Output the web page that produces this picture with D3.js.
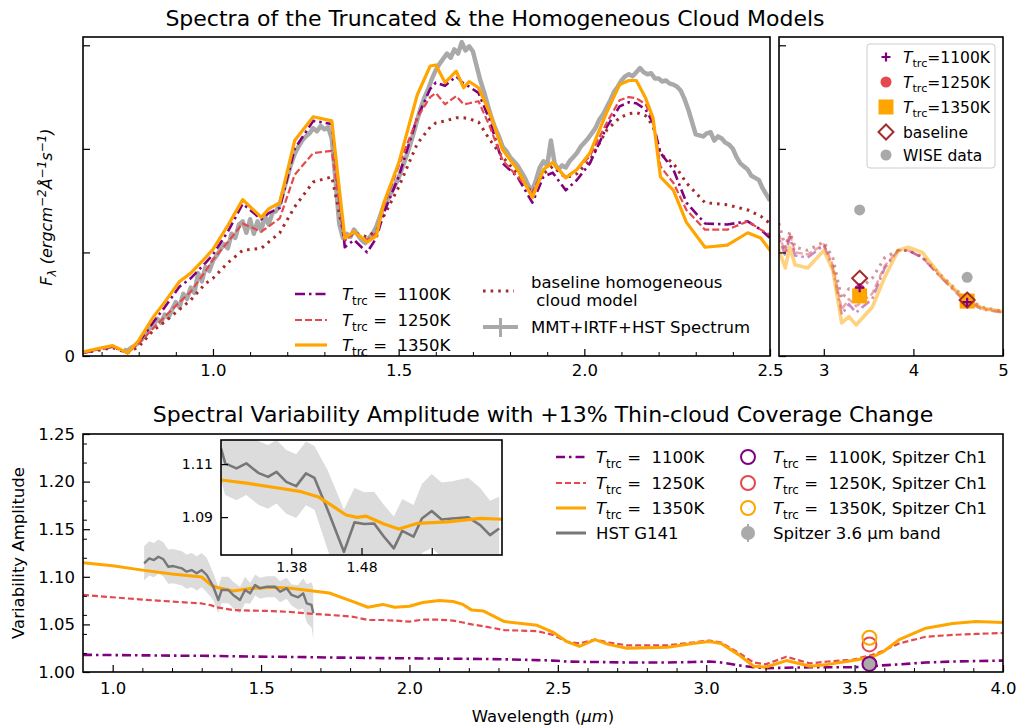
<!DOCTYPE html>
<html><head><meta charset="utf-8">
<script src="https://cdn.jsdelivr.net/npm/d3@7"></script>
<style>body{margin:0;background:#fff} text{font-family:"DejaVu Sans",sans-serif;white-space:pre;}</style>
</head><body><script>
// ---------------- DATA ----------------
// Top panels: model spectra (arbitrary flux units)
const modelWave = [0.65,0.70,0.73,0.77,0.80,0.84,0.87,0.91,0.94,0.98,
  1.00,1.04,1.08,1.13,1.15,1.18,1.22,1.27,1.32,1.355,
  1.38,1.415,1.44,1.46,1.50,1.55,1.585,1.60,1.625,1.655,
  1.675,1.69,1.715,1.745,1.78,1.82,1.86,1.89,1.915,1.95,
  1.98,2.015,2.06,2.095,2.12,2.14,2.165,2.185,2.205,2.24,
  2.275,2.325,2.385,2.44,2.475,2.50,2.57,2.62,2.68,2.82,
  3.00,3.10,3.20,3.28,3.36,3.54,3.68,3.83,3.94,4.10,
  4.32,4.55,4.77,5.00];
const flux1100 = [0.03,0.07,0.09,0.03,0.13,0.33,0.47,0.67,0.75,0.90,
  0.98,1.20,1.47,1.32,1.38,1.43,2.00,2.27,2.24,1.05,
  1.12,1.00,1.14,1.38,1.73,2.30,2.58,2.64,2.61,2.70,
  2.63,2.60,2.54,2.28,1.86,1.73,1.48,1.73,1.77,1.60,
  1.70,1.86,2.21,2.41,2.45,2.44,2.38,2.25,1.96,1.80,
  1.48,1.28,1.27,1.30,1.22,1.14,0.97,1.15,0.97,0.95,
  1.07,0.85,0.40,0.50,0.42,0.55,0.85,1.02,1.02,0.95,
  0.75,0.55,0.45,0.42];
const flux1250 = [0.03,0.07,0.09,0.03,0.12,0.27,0.38,0.52,0.62,0.82,
  0.93,1.10,1.28,1.20,1.25,1.33,1.75,1.96,1.98,1.12,
  1.19,1.12,1.19,1.45,1.83,2.30,2.50,2.54,2.43,2.51,
  2.43,2.44,2.46,2.22,1.89,1.73,1.58,1.80,1.86,1.73,
  1.80,1.93,2.25,2.47,2.50,2.49,2.43,2.28,1.83,1.67,
  1.41,1.22,1.22,1.30,1.22,1.17,1.00,1.18,1.00,0.98,
  1.08,0.88,0.45,0.55,0.48,0.60,0.87,1.02,1.02,0.95,
  0.75,0.56,0.46,0.43];
const flux1350 = [0.04,0.08,0.10,0.03,0.15,0.38,0.52,0.72,0.80,0.95,
  1.03,1.26,1.51,1.34,1.42,1.48,2.08,2.31,2.27,1.14,
  1.20,1.10,1.16,1.48,1.86,2.52,2.80,2.81,2.64,2.75,
  2.59,2.65,2.59,2.35,1.99,1.80,1.53,1.80,1.87,1.72,
  1.80,1.96,2.35,2.62,2.66,2.66,2.49,2.30,1.73,1.60,
  1.29,1.05,1.07,1.19,1.14,1.02,0.85,1.05,0.88,0.85,
  1.02,0.83,0.32,0.38,0.30,0.47,0.76,1.02,1.05,1.00,
  0.76,0.57,0.46,0.43];
const fluxBase = [0.03,0.06,0.08,0.03,0.09,0.25,0.33,0.45,0.54,0.70,
  0.75,0.90,1.02,1.04,1.10,1.19,1.44,1.68,1.73,1.12,
  1.19,1.15,1.21,1.35,1.63,2.05,2.21,2.25,2.27,2.30,
  2.30,2.29,2.26,2.09,1.92,1.76,1.57,1.76,1.83,1.72,
  1.76,1.89,2.18,2.30,2.34,2.35,2.32,2.22,1.95,1.86,
  1.67,1.48,1.46,1.41,1.35,1.28,1.05,1.20,1.05,1.02,
  1.10,0.95,0.55,0.65,0.62,0.75,0.95,1.02,1.02,0.96,
  0.77,0.58,0.47,0.43];

// Observed MMT+IRTF+HST spectrum
const obsWave = [0.76,0.77,0.78,0.79,0.80,0.81,0.82,0.83,0.84,0.85,
  0.86,0.87,0.88,0.89,0.90,0.91,0.92,0.93,0.94,0.95,
  0.96,0.97,0.98,0.99,1.00,1.01,1.02,1.03,1.04,1.05,
  1.06,1.07,1.08,1.09,1.10,1.11,1.12,1.13,1.14,1.15,
  1.16,1.17,1.18,1.19,1.20,1.21,1.22,1.23,1.24,1.25,
  1.26,1.27,1.28,1.29,1.30,1.31,1.32,1.33,1.34,1.35,
  1.36,1.37,1.38,1.39,1.40,1.41,1.42,1.43,1.44,1.45,
  1.46,1.47,1.48,1.49,1.50,1.51,1.52,1.53,1.54,1.55,
  1.56,1.57,1.58,1.59,1.60,1.61,1.62,1.63,1.64,1.65,
  1.66,1.67,1.68,1.69,1.70,1.71,1.72,1.73,1.74,1.75,
  1.76,1.77,1.78,1.79,1.80,1.81,1.82,1.83,1.84,1.85,
  1.86,1.87,1.88,1.89,1.90,1.91,1.92,1.93,1.94,1.95,
  1.96,1.97,1.98,1.99,2.00,2.01,2.02,2.03,2.04,2.05,
  2.06,2.07,2.08,2.09,2.10,2.11,2.12,2.13,2.14,2.15,
  2.16,2.17,2.18,2.19,2.20,2.21,2.22,2.23,2.24,2.25,
  2.26,2.27,2.28,2.29,2.30,2.31,2.32,2.33,2.34,2.35,
  2.36,2.37,2.38,2.39,2.40,2.41,2.42,2.43,2.44,2.45,
  2.46,2.47,2.48,2.49,2.50];
const obsFlux = [0.06,0.05,0.08,0.10,0.13,0.17,0.22,0.27,0.30,0.36,
  0.32,0.40,0.37,0.45,0.52,0.47,0.60,0.55,0.66,0.61,
  0.80,0.72,0.86,0.82,0.92,0.97,1.03,1.08,1.04,1.18,
  1.14,1.27,1.30,1.19,1.32,1.18,1.30,1.21,1.35,1.27,
  1.38,1.40,1.47,1.60,1.72,1.85,1.95,2.02,2.08,2.12,
  2.15,2.20,2.17,2.22,2.19,2.21,2.10,1.70,1.28,1.14,
  1.18,1.15,1.22,1.17,1.12,1.09,1.14,1.18,1.25,1.35,
  1.45,1.51,1.58,1.65,1.72,1.82,1.92,2.03,2.15,2.28,
  2.40,2.50,2.58,2.68,2.76,2.82,2.87,2.92,2.88,2.96,
  2.92,3.03,2.95,2.99,2.94,2.80,2.66,2.55,2.42,2.30,
  2.20,2.12,2.02,1.98,1.92,1.88,1.84,1.78,1.72,1.64,
  1.60,1.70,1.82,1.88,1.84,2.08,1.86,1.80,1.84,1.82,
  1.88,1.92,1.96,2.02,2.06,2.10,2.15,2.20,2.28,2.33,
  2.40,2.47,2.55,2.60,2.66,2.70,2.72,2.70,2.74,2.78,
  2.74,2.72,2.73,2.68,2.68,2.65,2.66,2.63,2.62,2.60,
  2.56,2.48,2.38,2.26,2.14,2.13,2.12,2.15,2.16,2.08,
  2.12,2.10,2.06,2.04,2.00,1.92,1.86,1.83,1.80,1.74,
  1.72,1.70,1.62,1.56,1.50];

// Photometry (top-right panel)
const photWave = [3.4, 4.6];
const phot1100 = [0.66, 0.52];
const phot1250 = [0.64, 0.54];
const phot1350 = [0.58, 0.53];
const photBase = [0.75, 0.54];
const wiseFlux = [1.41, 0.76];

// Bottom panel: variability amplitude
const ampWave = [0.90,1.00,1.10,1.20,1.30,1.333,1.35,1.405,1.47,1.54,
  1.60,1.675,1.73,1.81,1.86,1.91,1.95,2.00,2.045,2.10,
  2.147,2.18,2.21,2.25,2.32,2.43,2.483,2.53,2.573,2.625,
  2.67,2.733,2.87,2.955,3.01,3.05,3.11,3.16,3.20,3.27,
  3.35,3.41,3.495,3.56,3.595,3.65,3.74,3.83,3.91,4.00];
const amp1100 = [1.0180,1.0178,1.0175,1.0172,1.0170,1.0169,1.0168,1.0165,1.0162,1.0160,
  1.0158,1.0155,1.0152,1.0150,1.0148,1.0146,1.0145,1.0144,1.0142,1.0141,
  1.0140,1.0139,1.0138,1.0137,1.0133,1.0125,1.0120,1.0110,1.0107,1.0105,
  1.0103,1.0100,1.0100,1.0105,1.0110,1.0100,1.0070,1.0050,1.0040,1.0045,
  1.0050,1.0050,1.0050,1.0060,1.0070,1.0080,1.0100,1.0110,1.0115,1.0120];
const amp1250 = [1.0810,1.0785,1.0760,1.0740,1.0720,1.0700,1.0680,1.0650,1.0645,1.0640,
  1.0630,1.0610,1.0600,1.0580,1.0546,1.0546,1.0540,1.0530,1.0550,1.0550,
  1.0540,1.0520,1.0500,1.0480,1.0440,1.0430,1.0390,1.0320,1.0300,1.0340,
  1.0310,1.0280,1.0280,1.0310,1.0330,1.0310,1.0200,1.0100,1.0080,1.0160,
  1.0090,1.0110,1.0130,1.0180,1.0220,1.0300,1.0370,1.0390,1.0400,1.0410];
const amp1350 = [1.1148,1.1117,1.1070,1.1030,1.0998,1.0910,1.0890,1.0850,1.0880,1.0890,
  1.0880,1.0850,1.0830,1.0740,1.0680,1.0710,1.0680,1.0690,1.0730,1.0750,
  1.0740,1.0710,1.0650,1.0640,1.0530,1.0490,1.0420,1.0320,1.0270,1.0340,
  1.0290,1.0250,1.0260,1.0300,1.0320,1.0300,1.0180,1.0060,1.0050,1.0120,
  1.0060,1.0080,1.0120,1.0160,1.0210,1.0340,1.0460,1.0510,1.0530,1.0520];

// HST G141 observed amplitude
const hstWave = [1.106,1.123,1.139,1.154,1.171,1.187,1.204,1.233,1.249,1.266,1.283,1.300,1.317,
  1.339,1.356,1.367,1.390,1.406,1.429,1.446,1.463,1.480,1.496,1.519,1.547,1.564,1.586,
  1.603,1.625,1.642,1.654,1.670,1.676];
const hstAmp = [1.1142,1.1194,1.1176,1.1211,1.1184,1.1106,1.1113,1.1089,1.1054,1.1071,1.1036,1.1071,1.1019,
  1.0896,1.0756,1.0861,1.0861,1.0809,1.0756,1.0861,1.0826,1.0914,1.0879,1.0896,1.0896,1.0843,1.0879,
  1.0809,1.0785,1.0826,1.0721,1.0704,1.0616];
const hstErr = [0.018,0.018,0.018,0.018,0.018,0.018,0.018,0.018,0.018,0.018,0.018,0.018,0.018,
  0.014,0.014,0.014,0.014,0.014,0.014,0.014,0.011,0.011,0.011,0.011,0.011,0.011,0.011,
  0.011,0.013,0.016,0.020,0.024,0.027];

// Inset data
const insetWave = [1.280,1.286,1.302,1.316,1.333,1.347,1.359,1.373,1.387,1.401,1.413,1.432,1.455,1.470,
  1.484,1.498,1.512,1.526,1.538,1.554,1.566,1.580,1.594,1.609,1.632,1.649,1.663,1.676];
const insetAmp = [1.1159,1.1103,1.1084,1.1103,1.1067,1.1052,1.1071,1.1033,1.1017,1.1065,1.1048,1.0926,1.0769,1.0880,
  1.0874,1.0876,1.0826,1.0782,1.0848,1.0826,1.0895,1.0923,1.0891,1.0895,1.0899,1.0870,1.0832,1.0857];
const insetErr = [0.012,0.012,0.012,0.012,0.012,0.012,0.012,0.012,0.012,0.012,0.012,0.015,0.016,0.013,
  0.012,0.012,0.012,0.012,0.012,0.012,0.013,0.014,0.014,0.014,0.015,0.014,0.013,0.012];
const insetModelWave = [1.280,1.319,1.366,1.394,1.418,1.437,1.458,1.474,1.486,1.512,1.533,1.559,1.602,1.649,1.680];
const insetModelAmp = [1.1040,1.1027,1.1008,1.0996,1.0977,1.0945,1.0908,1.0899,1.0904,1.0874,1.0855,1.0876,1.0882,1.0895,1.0892];

// Spitzer channel 1
const spitzerWave = 3.55;
const spitzerModelAmp = [1.0085, 1.029, 1.036]; // 1100K, 1250K, 1350K
const spitzerObsAmp = 1.0085;

// Tick values / labels
const ticksTopLeftX = [1.0, 1.5, 2.0, 2.5];
const ticksTopRightX = [3, 4, 5];
const ticksTopY = [0, 1, 2, 3];
const ticksBottomX = [1.0, 1.5, 2.0, 2.5, 3.0, 3.5, 4.0];
const ticksBottomY = [1.00, 1.05, 1.10, 1.15, 1.20, 1.25];
const ticksInsetX = [1.38, 1.48, 1.58];
const ticksInsetXLabels = ["1.38", "1.48", ""];
const ticksInsetY = [1.09, 1.11];

const tempLabels = ["1100K", "1250K", "1350K"];
const colors = {p1100:"purple", p1250:"#e4494d", p1350:"orange", base:"brown", obs:"#a9a9a9", hst:"#777777", band:"#dcdcdc"};

// ---------------- DRAW ----------------
const W = 1019, H = 727, FF = "DejaVu Sans";
const FS = 16.5;
const svg = d3.select("body").append("svg").attr("width", W).attr("height", H);
const defs = svg.append("defs");

const PA = {x0:83, x1:770, y0:37, y1:356};
const PB = {x0:779, x1:1003, y0:37, y1:356};
const PC = {x0:83, x1:1003, y0:434, y1:672};
const PI = {x0:221, x1:502, y0:440, y1:555};

function clip(id, p){ defs.append("clipPath").attr("id", id).append("rect")
  .attr("x", p.x0).attr("y", p.y0).attr("width", p.x1-p.x0).attr("height", p.y1-p.y0); }
clip("cA", PA); clip("cB", PB); clip("cC", PC); clip("cI", PI);

const xA = d3.scaleLinear([0.65, 2.5], [PA.x0, PA.x1]);
const yA = d3.scaleLinear([0, 3.08], [PA.y1, PA.y0]);
const xB = d3.scaleLinear([2.5, 5.0], [PB.x0, PB.x1]);
const yB = d3.scaleLinear([0, 3.08], [PB.y1, PB.y0]);
const xC = d3.scaleLinear([0.9, 4.0], [PC.x0, PC.x1]);
const yC = d3.scaleLinear([1.0, 1.25], [PC.y1, PC.y0]);
const xI = d3.scaleLinear([1.28, 1.68], [PI.x0, PI.x1]);
const yI = d3.scaleLinear([1.0757, 1.1191], [PI.y1, PI.y0]);

function linePath(g, xs, ys, sx, sy, stroke, width, dash, opacity){
  const line = d3.line().x(d => sx(d[0])).y(d => sy(d[1]));
  g.append("path").datum(xs.map((x,i)=>[x, ys[i]]))
    .attr("d", line).attr("fill","none").attr("stroke", stroke)
    .attr("stroke-width", width).attr("stroke-dasharray", dash || null)
    .attr("stroke-linejoin","round").attr("opacity", opacity == null ? 1 : opacity);
}

function frame(p){ svg.append("rect").attr("x",p.x0).attr("y",p.y0).attr("width",p.x1-p.x0).attr("height",p.y1-p.y0)
  .attr("fill","none").attr("stroke","#000").attr("stroke-width",1.6); }

function xAxis(scale, y, major, fmt, minor, fs, pad){
  const g = svg.append("g").attr("transform", `translate(0,${y})`);
  g.call(d3.axisBottom(scale).tickValues(major).tickFormat(fmt).tickSizeInner(-7).tickSizeOuter(0).tickPadding(pad));
  g.select(".domain").remove();
  g.attr("font-size", fs).attr("font-family", FF);
  g.selectAll("line").attr("stroke","#000").attr("stroke-width",1.2);
  g.selectAll("text").attr("fill","#000");
  if (minor){
    const m = svg.append("g").attr("transform", `translate(0,${y})`);
    m.call(d3.axisBottom(scale).tickValues(minor).tickFormat("").tickSizeInner(-4).tickSizeOuter(0));
    m.select(".domain").remove();
    m.selectAll("line").attr("stroke","#000").attr("stroke-width",1);
  }
}
function yAxis(scale, x, major, fmt, minor, fs, pad){
  const g = svg.append("g").attr("transform", `translate(${x},0)`);
  g.call(d3.axisLeft(scale).tickValues(major).tickFormat(fmt).tickSizeInner(-7).tickSizeOuter(0).tickPadding(pad));
  g.select(".domain").remove();
  g.attr("font-size", fs).attr("font-family", FF);
  g.selectAll("line").attr("stroke","#000").attr("stroke-width",1.2);
  g.selectAll("text").attr("fill","#000");
  if (minor){
    const m = svg.append("g").attr("transform", `translate(${x},0)`);
    m.call(d3.axisLeft(scale).tickValues(minor).tickFormat("").tickSizeInner(-4).tickSizeOuter(0));
    m.select(".domain").remove();
    m.selectAll("line").attr("stroke","#000").attr("stroke-width",1);
  }
}

function ttrc(g, x, yc, rest, fs){
  const t = g.append("text").attr("x", x).attr("y", yc + fs*0.36).attr("font-size", fs).attr("fill","#000");
  t.append("tspan").attr("font-style","italic").text("T");
  t.append("tspan").attr("font-size", fs*0.72).attr("dy", fs*0.28).text("trc");
  t.append("tspan").attr("dy", -fs*0.28).text(rest);
  return t;
}

// ---- Titles
svg.append("text").attr("x", 495).attr("y", 26).attr("text-anchor","middle").attr("font-size", 22)
  .text("Spectra of the Truncated & the Homogeneous Cloud Models");
svg.append("text").attr("x", 543).attr("y", 422).attr("text-anchor","middle").attr("font-size", 22)
  .text("Spectral Variability Amplitude with +13% Thin-cloud Coverage Change");

// ---- Panel A
const gA = svg.append("g").attr("clip-path","url(#cA)");
linePath(gA, obsWave, obsFlux, xA, yA, colors.obs, 4.5);
linePath(gA, modelWave, fluxBase, xA, yA, colors.base, 3, "2.6,5");
linePath(gA, modelWave, flux1100, xA, yA, colors.p1100, 2.6, "10,4,2.5,4");
linePath(gA, modelWave, flux1250, xA, yA, colors.p1250, 2.2, "7,3");
linePath(gA, modelWave, flux1350, xA, yA, colors.p1350, 3.2);
frame(PA);
const minorA = d3.range(7, 26).map(v => v/10).filter(v => ticksTopLeftX.indexOf(v) < 0);
xAxis(xA, PA.y1, ticksTopLeftX, d3.format(".1f"), minorA, FS, 8);
yAxis(yA, PA.x0, ticksTopY, d => d === 0 ? "0" : "", null, FS, 8);

// ---- Panel B
const gB = svg.append("g").attr("clip-path","url(#cB)");
linePath(gB, modelWave, fluxBase, xB, yB, colors.base, 3, "2.6,5", 0.5);
linePath(gB, modelWave, flux1100, xB, yB, colors.p1100, 2.6, "10,4,2.5,4", 0.45);
linePath(gB, modelWave, flux1250, xB, yB, colors.p1250, 2.4, "7,3", 0.5);
linePath(gB, modelWave, flux1350, xB, yB, colors.p1350, 3.6, null, 0.5);
function plusMark(g, x, y, s, c){ g.append("path").attr("d", `M${x-s},${y}H${x+s}M${x},${y-s}V${y+s}`).attr("stroke", c).attr("stroke-width", 2.2); }
function diamondMark(g, x, y, s, c){ g.append("path").attr("d", `M${x},${y-s}L${x+s},${y}L${x},${y+s}L${x-s},${y}Z`).attr("fill","none").attr("stroke", c).attr("stroke-width", 2); }
photWave.forEach((w,i) => {
  gB.append("circle").attr("cx", xB(w)).attr("cy", yB(wiseFlux[i])).attr("r", 5.5).attr("fill", colors.obs);
});
photWave.forEach((w,i) => {
  gB.append("circle").attr("cx", xB(w)).attr("cy", yB(phot1250[i])).attr("r", 5.5).attr("fill", colors.p1250);
  gB.append("rect").attr("x", xB(w)-7.5).attr("y", yB(phot1350[i])-7.5).attr("width", 15).attr("height", 15).attr("fill", colors.p1350);
  diamondMark(gB, xB(w), yB(photBase[i]), 7.5, colors.base);
  plusMark(gB, xB(w), yB(phot1100[i]), 4.5, colors.p1100);
});
frame(PB);
xAxis(xB, PB.y1, ticksTopRightX, d3.format("d"), null, FS, 8);
yAxis(yB, PB.x0, ticksTopY, () => "", null, FS, 8);

// Legend B
const lB = svg.append("g");
lB.append("rect").attr("x", 867).attr("y", 44).attr("width", 128).attr("height", 124).attr("rx", 3)
  .attr("fill","#fff").attr("fill-opacity",0.85).attr("stroke","#cccccc");
const lbRows = [57, 82, 107, 132, 155];
plusMark(lB, 886, lbRows[0], 4.5, colors.p1100);
lB.append("circle").attr("cx", 886).attr("cy", lbRows[1]).attr("r", 5.5).attr("fill", colors.p1250);
lB.append("rect").attr("x", 878.5).attr("y", lbRows[2]-7.5).attr("width", 15).attr("height", 15).attr("fill", colors.p1350);
diamondMark(lB, 886, lbRows[3], 7.5, colors.base);
lB.append("circle").attr("cx", 886).attr("cy", lbRows[4]).attr("r", 5.5).attr("fill", colors.obs);
tempLabels.forEach((t,i) => ttrc(lB, 903, lbRows[i], "=" + t, 15.5));
lB.append("text").attr("x", 903).attr("y", lbRows[3]+5.6).attr("font-size", 15.5).text("baseline");
lB.append("text").attr("x", 903).attr("y", lbRows[4]+5.6).attr("font-size", 15.5).text("WISE data");

// Legend A
const lA = svg.append("g");
const laRows = [294, 320, 345];
function legLine(g, x0, x1, y, c, w, dash){ g.append("line").attr("x1",x0).attr("x2",x1).attr("y1",y).attr("y2",y)
  .attr("stroke",c).attr("stroke-width",w).attr("stroke-dasharray",dash||null); }
legLine(lA, 295, 327, laRows[0], colors.p1100, 2.6, "10,4,2.5,4");
legLine(lA, 295, 327, laRows[1], colors.p1250, 2.2, "7,3");
legLine(lA, 295, 327, laRows[2], colors.p1350, 3.2);
tempLabels.forEach((t,i) => ttrc(lA, 342, laRows[i], " =  " + t, FS));
legLine(lA, 483, 514, 291, colors.base, 3, "2.6,5");
lA.append("text").attr("x", 531).attr("y", 288).attr("font-size", FS).text("baseline homogeneous");
lA.append("text").attr("x", 531).attr("y", 306).attr("font-size", FS).text(" cloud model");
legLine(lA, 483, 518, 327, colors.obs, 4);
lA.append("line").attr("x1", 500.5).attr("x2", 500.5).attr("y1", 318).attr("y2", 337).attr("stroke", colors.obs).attr("stroke-width", 3);
lA.append("text").attr("x", 531).attr("y", 333).attr("font-size", FS).text("MMT+IRTF+HST Spectrum");

// Y label top
const yl = svg.append("text").attr("transform","translate(52,207) rotate(-90)").attr("text-anchor","middle")
  .attr("font-size", 16).attr("font-style","italic");
yl.append("tspan").text("F");
yl.append("tspan").attr("font-size", 12).attr("dy", 4).text("λ");
yl.append("tspan").attr("dy", -4).text(" (ergcm");
yl.append("tspan").attr("font-size", 12).attr("dy", -6).text("−2");
yl.append("tspan").attr("dy", 6).text("Å");
yl.append("tspan").attr("font-size", 12).attr("dy", -6).text("−1");
yl.append("tspan").attr("dy", 6).text("s");
yl.append("tspan").attr("font-size", 12).attr("dy", -6).text("−1");
yl.append("tspan").attr("dy", 6).text(")");

// ---- Panel C
const gC = svg.append("g").attr("clip-path","url(#cC)");
const bandC = d3.area().x((d,i) => xC(hstWave[i])).y0((d,i) => yC(hstAmp[i]-hstErr[i])).y1((d,i) => yC(hstAmp[i]+hstErr[i]));
gC.append("path").datum(hstWave).attr("d", bandC).attr("fill", colors.band);
linePath(gC, ampWave, amp1100, xC, yC, colors.p1100, 2.6, "9,4,2.5,4");
linePath(gC, ampWave, amp1250, xC, yC, colors.p1250, 2.2, "6,3");
linePath(gC, ampWave, amp1350, xC, yC, colors.p1350, 3);
linePath(gC, hstWave, hstAmp, xC, yC, colors.hst, 2.4);
gC.append("circle").attr("cx", xC(spitzerWave)).attr("cy", yC(spitzerObsAmp)).attr("r", 7.5).attr("fill", "#aaaaaa");
[colors.p1100, colors.p1250, colors.p1350].forEach((c,i) => {
  gC.append("circle").attr("cx", xC(spitzerWave)).attr("cy", yC(spitzerModelAmp[i])).attr("r", 7)
    .attr("fill","none").attr("stroke", c).attr("stroke-width", 2);
});
frame(PC);
const minorCx = d3.range(10, 41).map(v => v/10).filter(v => Math.abs(v*2 - Math.round(v*2)) > 1e-6);
const minorCy = [1.02,1.04,1.06,1.08,1.12,1.14,1.16,1.18,1.22,1.24];
xAxis(xC, PC.y1, ticksBottomX, d3.format(".1f"), minorCx, FS, 10);
yAxis(yC, PC.x0, ticksBottomY, d3.format(".2f"), minorCy, FS, 8);

svg.append("text").attr("transform","translate(24,553) rotate(-90)").attr("text-anchor","middle").attr("font-size",FS)
  .text("Variability Amplitude");
const xl = svg.append("text").attr("x", 543).attr("y", 722).attr("text-anchor","middle").attr("font-size", FS);
xl.append("tspan").text("Wavelength (");
xl.append("tspan").attr("font-style","italic").text("μm");
xl.append("tspan").text(")");

// Legend C
const lC = svg.append("g");
const lcRows = [457, 483, 508, 533];
legLine(lC, 556, 586, lcRows[0], colors.p1100, 2.6, "9,4,2.5,4");
legLine(lC, 556, 586, lcRows[1], colors.p1250, 2.2, "6,3");
legLine(lC, 556, 586, lcRows[2], colors.p1350, 3);
legLine(lC, 556, 586, lcRows[3], colors.hst, 3);
tempLabels.forEach((t,i) => ttrc(lC, 596, lcRows[i], " =  " + t, FS));
lC.append("text").attr("x", 596).attr("y", lcRows[3]+6).attr("font-size", FS).text("HST G141");
[colors.p1100, colors.p1250, colors.p1350].forEach((c,i) => {
  lC.append("circle").attr("cx", 748).attr("cy", lcRows[i]).attr("r", 7).attr("fill","none").attr("stroke", c).attr("stroke-width", 2);
  ttrc(lC, 773, lcRows[i], " =  " + tempLabels[i] + ", Spitzer Ch1", FS);
});
lC.append("line").attr("x1",748).attr("x2",748).attr("y1",lcRows[3]-9).attr("y2",lcRows[3]+9).attr("stroke","#aaaaaa").attr("stroke-width",2);
lC.append("circle").attr("cx", 748).attr("cy", lcRows[3]).attr("r", 7).attr("fill", "#aaaaaa");
lC.append("text").attr("x", 773).attr("y", lcRows[3]+6).attr("font-size", FS).text("Spitzer 3.6 μm band");

// ---- Inset
svg.append("rect").attr("x", PI.x0).attr("y", PI.y0).attr("width", PI.x1-PI.x0).attr("height", PI.y1-PI.y0).attr("fill","#fff");
const gI = svg.append("g").attr("clip-path","url(#cI)");
const bandI = d3.area().x((d,i) => xI(insetWave[i])).y0((d,i) => yI(insetAmp[i]-insetErr[i])).y1((d,i) => yI(insetAmp[i]+insetErr[i]));
gI.append("path").datum(insetWave).attr("d", bandI).attr("fill", colors.band);
linePath(gI, insetWave, insetAmp, xI, yI, colors.hst, 2.6);
linePath(gI, insetModelWave, insetModelAmp, xI, yI, colors.p1350, 3.2);
frame(PI);
xAxis(xI, PI.y1, ticksInsetX, (d,i) => ticksInsetXLabels[i], null, 14, 7);
yAxis(yI, PI.x0, ticksInsetY, d3.format(".2f"), null, 14, 8);
</script></body></html>
